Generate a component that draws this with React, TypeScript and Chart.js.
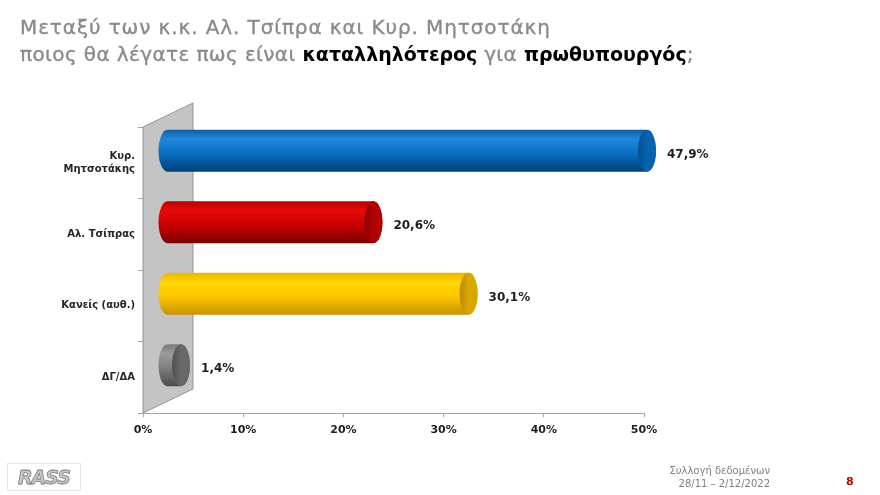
import React, { useEffect, useRef } from "react";
import { Chart, registerables } from "chart.js";

Chart.register(...registerables);

// ---- data ----
const categories: (string | string[])[] = [["Κυρ.", "Μητσοτάκης"], "Αλ. Τσίπρας", "Κανείς (αυθ.)", "ΔΓ/ΔΑ"];
const values: number[] = [47.9, 20.6, 30.1, 1.4];
const valueLabels: string[] = ["47,9%", "20,6%", "30,1%", "1,4%"];
const xTickValues: number[] = [0, 10, 20, 30, 40, 50];

// ---- styles ----
const barStyles = [
  { top: "#0b5ea8", hi: "#2288dc", mid: "#0a6fc4", bot: "#033f78", face: "#0762b0", faceEdge: "#044f92" },
  { top: "#b80000", hi: "#e60a0a", mid: "#cc0000", bot: "#7a0000", face: "#b00000", faceEdge: "#8e0000" },
  { top: "#e8b800", hi: "#ffd400", mid: "#ffc800", bot: "#c79200", face: "#d9a800", faceEdge: "#b88c00" },
  { top: "#7a7a7a", hi: "#9a9a9a", mid: "#808080", bot: "#4a4a4a", face: "#686868", faceEdge: "#505050" },
];

const DX = 24;
const DY = 12;
const RX = 9;
const WALL_DX = 50;
const WALL_DY = 24;
const FONT = "'DejaVu Sans', 'Noto Sans', sans-serif";

const wallPlugin = {
  id: "wall3d",
  beforeDatasetsDraw(chart: any) {
    const { ctx, chartArea } = chart;
    const { left, top, bottom } = chartArea;
    ctx.save();
    ctx.beginPath();
    ctx.moveTo(left, top);
    ctx.lineTo(left + WALL_DX, top - WALL_DY);
    ctx.lineTo(left + WALL_DX, bottom - WALL_DY);
    ctx.lineTo(left, bottom);
    ctx.closePath();
    ctx.fillStyle = "#c4c4c4";
    ctx.fill();
    ctx.strokeStyle = "#949494";
    ctx.lineWidth = 1;
    ctx.stroke();
    ctx.restore();
  },
};

const cylinderPlugin = {
  id: "cylinders",
  afterDatasetsDraw(chart: any) {
    const { ctx } = chart;
    const meta = chart.getDatasetMeta(0);
    meta.data.forEach((el: any, i: number) => {
      const st = barStyles[i % barStyles.length];
      const x0 = el.base + DX;
      const x1 = el.x + DX;
      const yc = el.y - DY;
      const ry = el.height / 2;
      ctx.save();
      const g = ctx.createLinearGradient(0, yc - ry, 0, yc + ry);
      g.addColorStop(0, st.top);
      g.addColorStop(0.22, st.hi);
      g.addColorStop(0.55, st.mid);
      g.addColorStop(1, st.bot);
      ctx.beginPath();
      ctx.moveTo(x1, yc - ry);
      ctx.lineTo(x0, yc - ry);
      ctx.ellipse(x0, yc, RX, ry, 0, -Math.PI / 2, Math.PI / 2, true);
      ctx.lineTo(x1, yc + ry);
      ctx.ellipse(x1, yc, RX, ry, 0, Math.PI / 2, -Math.PI / 2, true);
      ctx.closePath();
      ctx.fillStyle = g;
      ctx.fill();
      const fg = ctx.createLinearGradient(x1 - RX, 0, x1 + RX, 0);
      fg.addColorStop(0, st.faceEdge);
      fg.addColorStop(0.5, st.face);
      fg.addColorStop(1, st.face);
      ctx.beginPath();
      ctx.ellipse(x1, yc, RX, ry, 0, 0, Math.PI * 2);
      ctx.fillStyle = fg;
      ctx.fill();
      ctx.fillStyle = "#1e1e1e";
      ctx.font = `bold 12px ${FONT}`;
      ctx.textAlign = "left";
      ctx.textBaseline = "middle";
      ctx.fillText(valueLabels[i], x1 + RX + 11, yc + 4);
      ctx.restore();
    });
  },
};

export default function App() {
  const canvasRef = useRef<HTMLCanvasElement>(null);

  useEffect(() => {
    document.body.style.margin = "0";
    const canvas = canvasRef.current!;
    const chart = new Chart(canvas, {
      type: "bar",
      data: {
        labels: categories as any,
        datasets: [
          {
            data: values,
            backgroundColor: "rgba(0,0,0,0)",
            borderWidth: 0,
            barThickness: 42,
          },
        ],
      },
      options: {
        indexAxis: "y",
        responsive: false,
        animation: false,
        events: [],
        layout: { padding: { top: 127, right: 236, bottom: 0, left: 0 } },
        plugins: {
          legend: { display: false },
          tooltip: { enabled: false },
          title: { display: false },
        },
        scales: {
          x: {
            type: "linear",
            min: 0,
            max: 50,
            afterFit: (scale: any) => {
              scale.height = 82;
            },
            afterBuildTicks: (scale: any) => {
              scale.ticks = xTickValues.map((v) => ({ value: v }));
            },
            ticks: {
              callback: (v: any) => `${v}%`,
              color: "#1e1e1e",
              font: { family: FONT, size: 11, weight: "bold" },
              padding: 7,
              maxRotation: 0,
            },
            grid: {
              drawOnChartArea: false,
              drawTicks: true,
              tickLength: 4,
              color: "#a6a6a6",
            },
            border: { display: true, color: "#a6a6a6", width: 1 },
          },
          y: {
            type: "category",
            afterFit: (scale: any) => {
              scale.width = 143;
            },
            ticks: {
              color: "#262626",
              font: { family: FONT, size: 10, weight: "bold", lineHeight: 1.35 },
              padding: 3,
            },
            grid: {
              drawOnChartArea: false,
              drawTicks: true,
              tickLength: 5,
              color: "#a6a6a6",
              offset: true,
            },
            border: { display: true, color: "#a6a6a6", width: 1 },
          },
        },
      } as any,
      plugins: [wallPlugin, cylinderPlugin],
    });
    return () => chart.destroy();
  }, []);

  const bold: React.CSSProperties = {
    color: "#000",
    fontWeight: "bold",
    fontSize: 19,
    letterSpacing: 0,
    WebkitTextStroke: "0px",
  };

  return (
    <div
      style={{
        position: "fixed",
        left: 0,
        top: 0,
        width: 880,
        height: 495,
        background: "#ffffff",
        overflow: "hidden",
        fontFamily: FONT,
      }}
    >
      <canvas ref={canvasRef} width={880} height={495} style={{ position: "absolute", left: 0, top: 0 }} />
      <div
        style={{
          position: "absolute",
          left: 20,
          top: 14,
          fontSize: 20,
          lineHeight: "27px",
          color: "#8a8a8a",
          WebkitTextStroke: "0.35px #8a8a8a",
          whiteSpace: "nowrap",
        }}
      >
        <div style={{ letterSpacing: 0.9 }}>Μεταξύ των κ.κ. Αλ. Τσίπρα και Κυρ. Μητσοτάκη</div>
        <div style={{ letterSpacing: 0.4 }}>
          ποιος θα λέγατε πως είναι <span style={bold}>καταλληλότερος</span> για{" "}
          <span style={bold}>πρωθυπουργός</span>;
        </div>
      </div>
      <div
        style={{
          position: "absolute",
          right: 110,
          top: 464,
          fontSize: 10,
          lineHeight: "13px",
          color: "#7f7f7f",
          textAlign: "right",
        }}
      >
        <div>Συλλογή δεδομένων</div>
        <div>28/11 – 2/12/2022</div>
      </div>
      <div
        style={{
          position: "absolute",
          left: 846,
          top: 475,
          fontSize: 11,
          fontWeight: "bold",
          color: "#c00000",
        }}
      >
        8
      </div>
      <div
        style={{
          position: "absolute",
          left: 7,
          top: 463,
          width: 74,
          height: 28,
          border: "1px solid #e4e4e4",
          boxSizing: "border-box",
          display: "flex",
          alignItems: "center",
          justifyContent: "center",
        }}
      >
        <span
          style={{
            fontStyle: "italic",
            fontWeight: 900,
            fontSize: 19,
            letterSpacing: -1,
            color: "#c8c8c8",
            WebkitTextStroke: "0.8px #7a7a7a",
            fontFamily: "'DejaVu Sans', sans-serif",
          }}
        >
          RASS
        </span>
      </div>
    </div>
  );
}
